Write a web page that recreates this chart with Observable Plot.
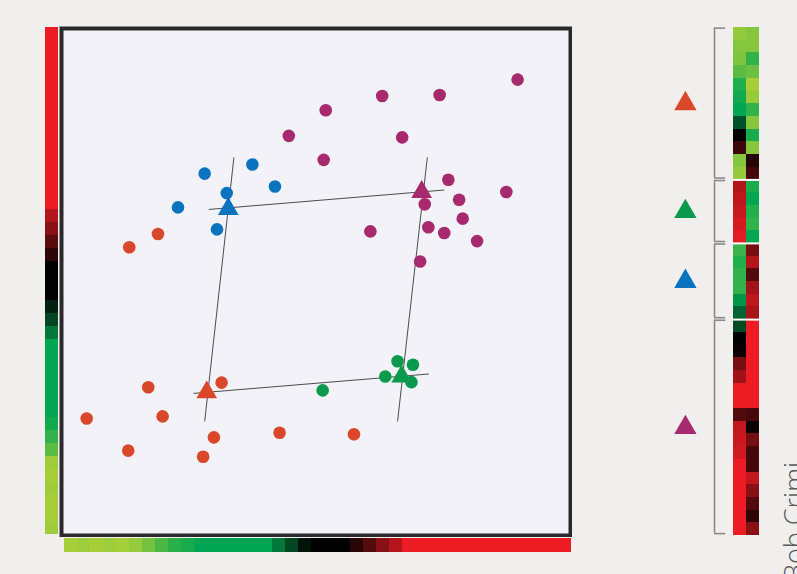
<!DOCTYPE html>
<html><head><meta charset="utf-8">
<script src="https://cdn.jsdelivr.net/npm/d3@7"></script>
<script src="https://cdn.jsdelivr.net/npm/@observablehq/plot@0.6"></script>
<style>
html,body{margin:0;padding:0;background:#f0efed;overflow:hidden;}
#root{position:relative;width:797px;height:574px;overflow:hidden;background:#f0efed;}
#root .panel{position:absolute;}
#root svg{display:block;background:none;}
#credit{position:absolute;left:780px;top:581px;transform:rotate(-90deg);transform-origin:left top;white-space:nowrap;
  font-family:"Open Sans",sans-serif;font-weight:300;font-size:27px;line-height:28px;color:#58595b;}
</style></head>
<body><div id="root"></div>
<script>
// ---------- data ----------
const groups = ["Group 1", "Group 2", "Group 3", "Group 4"];
const groupColors = ["#d9482b", "#0b9a4d", "#0a73c0", "#a62a6d"];
const groupSizes = [12, 5, 6, 17];

// scatter samples (PC1, PC2)
const g1PC1 = [19.2, 13.6, 17.3, 31.6, 5.3, 20.1, 13.4, 30.1, 28.0, 42.9, 57.4];
const g1PC2 = [59.4, 56.8, 29.4, 30.3, 23.3, 23.7, 17.0, 19.6, 15.8, 20.5, 20.2];
const g2PC1 = [51.3, 65.9, 68.9, 63.5, 68.6];
const g2PC2 = [28.8, 34.5, 33.8, 31.5, 30.4];
const g3PC1 = [28.3, 37.6, 42.0, 32.6, 23.1, 30.7];
const g3PC2 = [71.2, 73.0, 68.7, 67.4, 64.6, 60.3];
const g4PC1 = [44.7, 89.3, 62.9, 74.1, 51.9, 66.8, 51.5, 75.8, 87.1, 77.9, 71.2, 78.6, 71.9, 75.0, 81.4, 60.6, 70.3];
const g4PC2 = [78.6, 89.6, 86.4, 86.6, 83.6, 78.3, 73.9, 70.0, 67.6, 66.1, 65.2, 62.4, 60.7, 59.6, 58.0, 59.9, 54.0];

// group centroids (triangles), order = groups
const centroidPC1 = [28.7, 66.7, 32.9, 70.6];
const centroidPC2 = [28.4, 31.5, 64.3, 67.6];

// axis lines through centroids
const lineX1 = [34.0, 71.7, 29.1, 26.1];
const lineY1 = [74.4, 74.4, 64.2, 28.2];
const lineX2 = [28.3, 65.9, 75.0, 72.0];
const lineY2 = [22.7, 22.7, 68.0, 32.0];

// sorted expression bars
const leftBar = [1,1,1,1,1,1,1,1,1,1,1,1,1,1,0.75,0.58,0.38,0.2,0,0,0,-0.2,-0.42,-0.73,-1,-1,-1,-1,-1,-1,-1.1,-1.3,-1.55,-1.95,-2,-1.95,-2,-2,-1.95];
const bottomBar = [-2,-1.95,-2,-1.95,-2,-1.9,-1.7,-1.45,-1.25,-1.15,-1,-1,-1,-1,-1,-1,-0.73,-0.42,-0.12,0,0,0,0.18,0.36,0.58,0.76,1,1,1,1,1,1,1,1,1,1,1,1,1];

// heatmap (two genes x 40 samples, grouped)
const heatGeneA = [-1.9,-1.8,-1.75,-1.55,-1.2,-1.1,-1,-0.5,0,0.25,-1.8,-1.9,
  0.74,0.8,0.84,0.9,0.96,
  -1.35,-1.2,-1.3,-1.3,-0.9,-0.6,
  -0.45,0,0.05,0.5,0.68,1,1,0.35,0.82,0.85,0.88,1,1,1,1,1,1];
const heatGeneB = [-1.8,-1.8,-1.3,-1.65,-2,-1.9,-1.3,-1.8,-1.15,-1.8,0.15,0.28,
  -1.15,-1,-1.2,-1.3,-1,
  0.5,0.76,0.35,0.68,0.8,0.7,
  1,1,1,1,1,1,1,0.3,0.05,0.5,0.3,0.3,0.82,0.58,0.35,0.2,0.58];

// ---------- build ----------
const heatScale = {type: "linear", domain: [-2, -1, 0, 1], range: ["#a6ce39", "#00a651", "#000000", "#ed1c24"], interpolate: "rgb"};

const pcs = [[g1PC1, g1PC2], [g2PC1, g2PC2], [g3PC1, g3PC2], [g4PC1, g4PC2]];
const points = pcs.flatMap(([xs, ys], gi) => xs.map((x, i) => ({x, y: ys[i], group: groups[gi]})));
const centroids = groups.map((g, i) => ({group: g, x: centroidPC1[i], y: centroidPC2[i]}));
const axisLines = lineX1.map((x1, i) => ({x1, y1: lineY1[i], x2: lineX2[i], y2: lineY2[i]}));

const root = document.getElementById("root");
function place(svg, left, top) {
  const d = document.createElement("div");
  d.className = "panel";
  d.style.left = left + "px";
  d.style.top = top + "px";
  d.appendChild(svg);
  root.appendChild(d);
}

// scatter
const scatter = Plot.plot({
  width: 513, height: 511, margin: 0,
  x: {domain: [0, 100], axis: null},
  y: {domain: [0, 100], axis: null},
  color: {type: "ordinal", domain: groups, range: groupColors},
  style: {background: "none"},
  marks: [
    Plot.frame({fill: "#f2f2f8", stroke: null, inset: 2}),
    Plot.link(axisLines, {x1: "x1", y1: "y1", x2: "x2", y2: "y2", stroke: "#3a3a3a", strokeWidth: 0.9}),
    Plot.dot(points, {x: "x", y: "y", fill: "group", r: 6.3}),
    Plot.dot(centroids, {x: "x", y: "y", fill: "group", symbol: "triangle", r: 7.7}),
    Plot.frame({stroke: "#2b292c", strokeWidth: 4, inset: 2})
  ]
});
place(scatter, 59, 26);

// left bar
const leftPlot = Plot.plot({
  width: 13, height: 508, margin: 0,
  y: {type: "band", domain: d3.range(leftBar.length), padding: 0, axis: null},
  color: heatScale,
  style: {background: "none"},
  marks: [Plot.cell(leftBar, {y: (d, i) => i, fill: d => d, inset: 0, shapeRendering: "crispEdges"})]
});
place(leftPlot, 45, 26);

// bottom bar
const bottomPlot = Plot.plot({
  width: 510, height: 14, margin: 0,
  x: {type: "band", domain: d3.range(bottomBar.length), padding: 0, axis: null},
  color: heatScale,
  style: {background: "none"},
  marks: [Plot.cell(bottomBar, {x: (d, i) => i, fill: d => d, inset: 0, shapeRendering: "crispEdges"})]
});
place(bottomPlot, 62, 538);

// right heatmap + brackets + legend
const heatRows = heatGeneA.flatMap((a, i) => [{row: i, gene: 0, value: a}, {row: i, gene: 1, value: heatGeneB[i]}]);
let acc = 0;
const groupRanges = groupSizes.map((n, i) => { const r = {group: groups[i], start: acc, end: acc + n}; acc += n; return r; });
const boundaries = groupRanges.slice(1).map(d => d.start);
const bracketX = -1.46, tickX = -0.6, legendX = -3.7;

const rightPlot = Plot.plot({
  width: 137, height: 574,
  marginLeft: 73, marginRight: 38, marginTop: 27, marginBottom: 39,
  x: {domain: [0, 2], axis: null},
  y: {domain: [0, 40], reverse: true, axis: null},
  color: heatScale,
  style: {background: "none", overflow: "visible"},
  marks: [
    Plot.rect(heatRows, {x1: "gene", x2: d => d.gene + 1, y1: "row", y2: d => d.row + 1, fill: "value", shapeRendering: "crispEdges"}),
    Plot.ruleY(boundaries, {y: d => d, x1: 0, x2: 2, stroke: "white", strokeWidth: 2}),
    Plot.ruleX(groupRanges, {x: () => bracketX, y1: d => d.start + 0.05, y2: d => d.end - 0.15, stroke: "#8a8a8a", strokeWidth: 1.6}),
    Plot.ruleY(groupRanges, {y: d => d.start + 0.05, x1: () => bracketX, x2: () => tickX, stroke: "#8a8a8a", strokeWidth: 1.6}),
    Plot.ruleY(groupRanges, {y: d => d.end - 0.15, x1: () => bracketX, x2: () => tickX, stroke: "#8a8a8a", strokeWidth: 1.6}),
    ...groupRanges.map((g, i) => Plot.dot([g], {x: () => legendX, y: d => (d.start + d.end) / 2, symbol: "triangle", r: 8.3, fill: groupColors[i]}))
  ]
});
place(rightPlot, 660, 0);

const credit = document.createElement("div");
credit.id = "credit";
credit.textContent = "Bob Crimi";
root.appendChild(credit);
</script>
</body></html>
